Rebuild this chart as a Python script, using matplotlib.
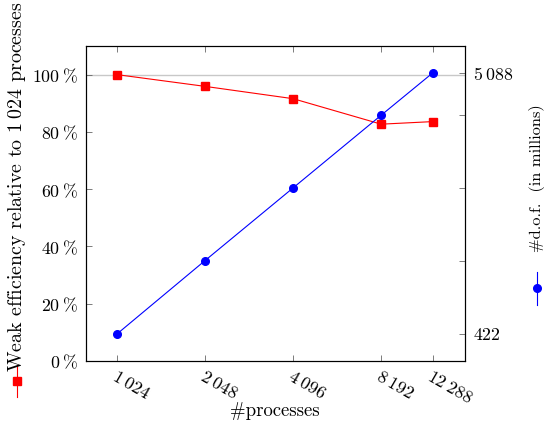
import matplotlib
matplotlib.use("Agg")
import matplotlib.pyplot as plt
from matplotlib.lines import Line2D

plt.rcParams['mathtext.fontset'] = 'cm'
plt.rcParams['font.family'] = ['cmr10', 'DejaVu Sans']
plt.rcParams['axes.unicode_minus'] = False

processes = [1024, 2048, 4096, 8192, 12288]
proc_labels = [r"$1\:024$", r"$2\:048$", r"$4\:096$", r"$8\:192$", r"$12\:288$"]
efficiency = [100, 95.9, 91.6, 82.7, 83.6]
dof = [422, 850, 1700, 3400, 5088]
dof_labels = ["$422$", "", "", "", r"$5\:088$"]
eff_ticks = [0, 20, 40, 60, 80, 100]
eff_labels = [r"$%d\:\%%$" % v for v in eff_ticks]

W, H = 547, 421
fig = plt.figure(figsize=(W / 100, H / 100), dpi=100)
ax = fig.add_axes([86 / W, 1 - 361 / H, (465 - 86) / W, (361 - 46) / H])
ax.set_xscale('log')
ax.set_xlim(802, 15850)
ax.set_ylim(0, 110)
ax.axhline(100, color='#c8c8c8', lw=1.0, zorder=1)
ax.plot(processes, efficiency, color='#ff0000', lw=0.8, marker='s', ms=5.5,
        mfc='#ff0000', mec='#ff0000', zorder=3)

ax.set_xticks(processes)
ax.set_xticklabels(proc_labels, fontsize=12.8, rotation=-30, ha='left', va='top',
                   rotation_mode='anchor')
ax.xaxis.set_minor_locator(matplotlib.ticker.NullLocator())
ax.set_yticks(eff_ticks)
ax.set_yticklabels(eff_labels, fontsize=12.8)
ax.tick_params(axis='x', which='both', direction='in', top=True, bottom=True,
               length=4, width=0.6, color='#666666', pad=5)
ax.tick_params(axis='y', direction='in', left=True, right=False, length=4,
               width=0.6, color='#666666', pad=6)
for s in ax.spines.values():
    s.set_linewidth(0.8)

fig.text(275 / W, 1 - 411 / H, "#processes", ha='center', va='center', fontsize=13.5)

ax2 = ax.twinx()
ax2.set_yscale('log')
ax2.set_ylim(326, 6580)
ax2.plot(processes, dof, color='#0000ff', lw=0.8, marker='o', ms=5.5,
         mfc='#0000ff', mec='#0000ff', zorder=3)
ax2.set_yticks(dof)
ax2.set_yticklabels(dof_labels, fontsize=12.8)
ax2.yaxis.set_minor_locator(matplotlib.ticker.NullLocator())
ax2.tick_params(axis='y', which='both', direction='in', length=4, width=0.6,
                color='#666666', pad=6)

# Left y label with legend marker
fig.text(17 / W, 1 - 372 / H, "Weak efficiency relative to $1\\:024$ processes",
         rotation=90, ha='center', va='bottom', fontsize=14.4)
fig.add_artist(Line2D([17 / W, 17 / W], [1 - 365 / H, 1 - 397 / H],
                      color='#ff0000', lw=0.8, transform=fig.transFigure))
fig.add_artist(Line2D([17 / W], [1 - 381 / H], color='#ff0000', marker='s',
                      ms=5.5, transform=fig.transFigure))

# Right y label with legend marker
fig.text(537 / W, 1 - 252 / H, "#d.o.f.  (in millions)", rotation=90,
         ha='center', va='bottom', fontsize=11.8)
fig.add_artist(Line2D([537 / W, 537 / W], [1 - 272 / H, 1 - 305 / H],
                      color='#0000ff', lw=0.8, transform=fig.transFigure))
fig.add_artist(Line2D([537 / W], [1 - 288 / H], color='#0000ff', marker='o',
                      ms=5.5, transform=fig.transFigure))

fig.savefig("out.png", dpi=100)
